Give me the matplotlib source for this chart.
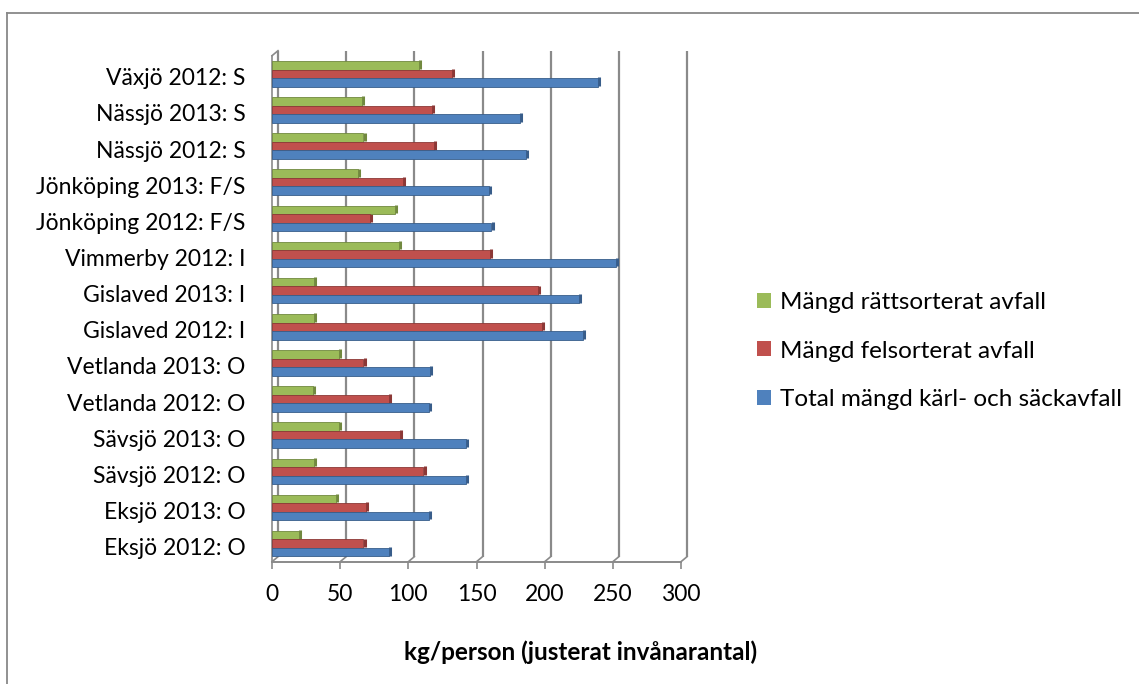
import numpy as np
import matplotlib
matplotlib.use("Agg")
import matplotlib.pyplot as plt
from matplotlib.lines import Line2D
from matplotlib.patches import Patch
from matplotlib.transforms import offset_copy, ScaledTranslation

plt.rcParams['font.family'] = ['Lato', 'DejaVu Sans']

# ---------------------------
# Data (bottom row first)
# ---------------------------
categories = ["Eksjö 2012: O", "Eksjö 2013: O", "Sävsjö 2012: O", "Sävsjö 2013: O",
              "Vetlanda 2012: O", "Vetlanda 2013: O", "Gislaved 2012: I", "Gislaved 2013: I",
              "Vimmerby 2012: I", "Jönköping 2012: F/S", "Jönköping 2013: F/S",
              "Nässjö 2012: S", "Nässjö 2013: S", "Växjö 2012: S"]
rattsorterat = [20, 47, 31, 49, 30, 49, 31, 31, 93, 90, 63, 67, 66, 108]
felsorterat = [67, 69, 111, 94, 86, 67, 198, 195, 160, 72, 96, 119, 117, 132]
total = [86, 115, 142, 142, 115, 116, 228, 225, 252, 161, 159, 186, 182, 239]

series_names = ["Mängd rättsorterat avfall", "Mängd felsorterat avfall",
                "Total mängd kärl- och säckavfall"]
x_ticks = [0, 50, 100, 150, 200, 250, 300]
x_title = "kg/person (justerat invånarantal)"

colors = ["#9BBB59", "#C0504D", "#4F81BD"]
edges = ["#71893F", "#8C3836", "#385D8A"]
grid_col = "#8A8A8A"

W, H = 1139, 684
fig = plt.figure(figsize=(W / 100, H / 100), dpi=100)

# axes box in pixels (front plane)
left, right, top, bottom = 272, 681, 55.7, 561.7
ax = fig.add_axes([left / W, 1 - bottom / H, (right - left) / W, (bottom - top) / H])
ax.set_xlim(0, 300)
ax.set_ylim(-0.5, len(categories) - 0.5)

# back wall = front plane shifted right/up
back = offset_copy(ax.transData, fig=fig, x=6, y=5, units='dots')
inv = ax.transData.inverted()

y = np.arange(len(categories))
h = 0.235
y0, y1 = -0.5, len(categories) - 0.5

# gridlines on the back wall, joined to the floor by short diagonals
for xv in x_ticks:
    ax.plot([xv, xv], [y0, y1], color=grid_col, lw=1.6, transform=back, zorder=1,
            solid_capstyle='butt', clip_on=False)
    a = inv.transform(ax.transData.transform((xv, y0)))
    b = inv.transform(back.transform((xv, y0)))
    ax.plot([a[0], b[0]], [a[1], b[1]], color=grid_col, lw=1.2, zorder=1, clip_on=False)

# left wall front edge and top corner
ax.plot([0, 0], [y0, y1], color=grid_col, lw=1.2, zorder=1, clip_on=False)
a = inv.transform(ax.transData.transform((0, y1)))
b = inv.transform(back.transform((0, y1)))
ax.plot([a[0], b[0]], [a[1], b[1]], color=grid_col, lw=1.2, zorder=1, clip_on=False)

# bars with a darker end face
cap = offset_copy(ax.transData, fig=fig, x=1.2, y=0.8, units='dots')
for vals, off, c, e in zip([rattsorterat, felsorterat, total], [h, 0, -h], colors, edges):
    ax.barh(y + off, vals, height=h, color=c, edgecolor=e, linewidth=0.6, zorder=3)
    for yi, v in zip(y, vals):
        ax.plot([v, v], [yi + off - h / 2, yi + off + h / 2], color=e, lw=2.2,
                transform=cap, zorder=2, solid_capstyle='butt')

for s in ax.spines.values():
    s.set_visible(False)
ax.spines['bottom'].set_visible(True)
ax.spines['bottom'].set_color(grid_col)
ax.spines['bottom'].set_linewidth(1.4)

ax.set_xticks(x_ticks)
ax.set_xticklabels([str(t) for t in x_ticks], fontsize=16.5)
ax.tick_params(axis='x', length=5, width=1.2, color=grid_col, pad=11)
ax.set_yticks(y)
ax.set_yticklabels(categories, fontsize=16.5)
ax.tick_params(axis='y', length=0, pad=19)
for lab in ax.get_yticklabels():
    lab.set_transform(lab.get_transform() + ScaledTranslation(0, -0.03, fig.dpi_scale_trans))

fig.text(580.5 / W, 1 - 652 / H, x_title, fontsize=17.5, fontweight='bold',
         ha='center', va='center')

handles = [Patch(facecolor=c, edgecolor='none') for c in colors]
fig.legend(handles, series_names, loc='center left',
           bbox_to_anchor=(750 / W, 1 - 351 / H), frameon=False, fontsize=17.5,
           handlelength=0.58, handleheight=0.58, handletextpad=0.37, labelspacing=1.13,
           borderaxespad=0, borderpad=0.3)

# outer chart border (top and left edges)
fig.add_artist(Line2D([6.5 / W, 1.0], [1 - 12.5 / H, 1 - 12.5 / H], color="#888888", lw=1.3))
fig.add_artist(Line2D([6.5 / W, 6.5 / W], [0, 1 - 12.5 / H], color="#888888", lw=1.3))

fig.savefig("out.png", dpi=100)
